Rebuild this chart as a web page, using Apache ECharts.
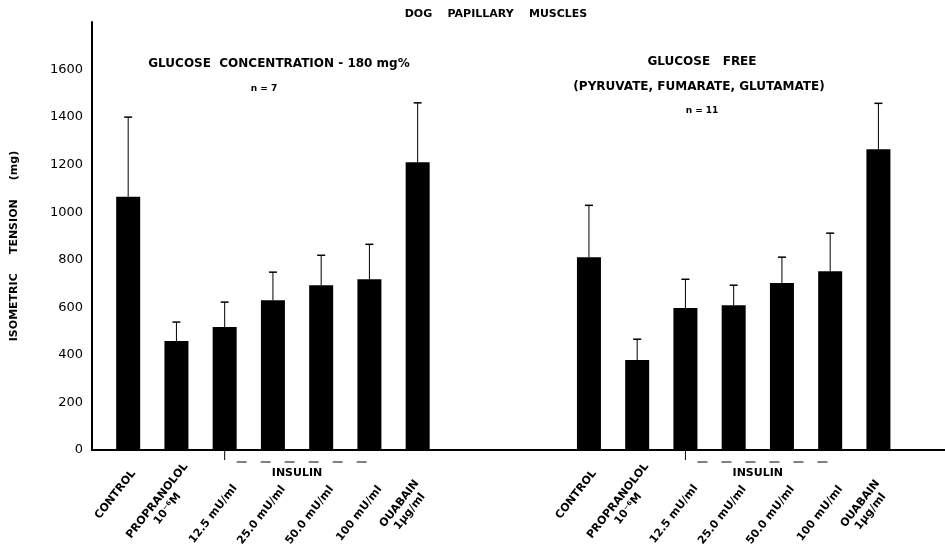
<!DOCTYPE html>
<html>
<head>
<meta charset="utf-8">
<script src="https://cdn.jsdelivr.net/npm/echarts@6/dist/echarts.min.js"></script>
<style>html,body{margin:0;padding:0;background:#fff;}#c{width:945px;height:547px;}</style>
</head>
<body>
<div id="c"></div>
<script>
// ---- data ----
const categories = ['CONTROL', 'PROPRANOLOL\n10\u207B\u2076M', '12.5 mU/ml', '25.0 mU/ml', '50.0 mU/ml', '100 mU/ml', 'OUABAIN\n1\u00B5g/ml'];
const glucoseValues = [1065, 458, 517, 630, 693, 718, 1210];
const glucoseErrTop = [1400, 538, 622, 748, 819, 865, 1460];
const freeValues = [811, 378, 597, 609, 702, 752, 1265];
const freeErrTop = [1029, 466, 718, 693, 811, 912, 1458];
const yTicks = [0, 200, 400, 600, 800, 1000, 1200, 1400, 1600];
const insulinLabel = 'INSULIN';
const insulinFirst = 2, insulinLast = 5;

// ---- layout ----
const RIGHT_OFFSET = 9.55;
const FONT = '"DejaVu Sans", sans-serif';
const LABEL_FONT = 'bold 11px ' + FONT;
const LABEL_ROT = 52 * Math.PI / 180;
const labelDx = [1, 5, 6, 6, 6, 6, -5];
const labelDy = [18, 11, 33, 34, 34, 34, 28];

const leftX = categories.map((c, i) => i);
const rightX = categories.map((c, i) => i + RIGHT_OFFSET);

const barData = leftX.map((x, i) => [x, glucoseValues[i]]).concat(rightX.map((x, i) => [x, freeValues[i]]));
const errData = leftX.map((x, i) => [x, glucoseValues[i], glucoseErrTop[i]]).concat(rightX.map((x, i) => [x, freeValues[i], freeErrTop[i]]));
const labelData = leftX.map((x, i) => [x, i]).concat(rightX.map((x, i) => [x, i]));
const insulinData = [[leftX[insulinFirst], leftX[insulinLast]], [rightX[insulinFirst], rightX[insulinLast]]];

const measureCtx = document.createElement('canvas').getContext('2d');
measureCtx.font = LABEL_FONT;

const chart = echarts.init(document.getElementById('c'), null, {renderer: 'canvas'});
chart.setOption({
  backgroundColor: '#fff',
  animation: false,
  grid: {left: 92, right: 0, top: 22, bottom: 97, containLabel: false},
  graphic: [
    {type: 'text', style: {text: 'DOG    PAPILLARY    MUSCLES', x: 496, y: 14, textAlign: 'center', textVerticalAlign: 'middle', font: 'bold 11px ' + FONT, fill: '#000'}},
    {type: 'text', style: {text: 'GLUCOSE  CONCENTRATION - 180 mg%', x: 279, y: 64, textAlign: 'center', textVerticalAlign: 'middle', font: 'bold 12px ' + FONT, fill: '#000'}},
    {type: 'text', style: {text: 'n = 7', x: 264, y: 89, textAlign: 'center', textVerticalAlign: 'middle', font: 'bold 9px ' + FONT, fill: '#000'}},
    {type: 'text', style: {text: 'GLUCOSE   FREE', x: 702, y: 62, textAlign: 'center', textVerticalAlign: 'middle', font: 'bold 12px ' + FONT, fill: '#000'}},
    {type: 'text', style: {text: '(PYRUVATE, FUMARATE, GLUTAMATE)', x: 699, y: 87, textAlign: 'center', textVerticalAlign: 'middle', font: 'bold 12px ' + FONT, fill: '#000'}},
    {type: 'text', style: {text: 'n = 11', x: 702, y: 111, textAlign: 'center', textVerticalAlign: 'middle', font: 'bold 9px ' + FONT, fill: '#000'}}
  ],
  xAxis: {
    type: 'value', min: -0.75, max: 16.93,
    splitLine: {show: false},
    axisTick: {show: false},
    axisLabel: {show: false},
    axisLine: {show: true, onZero: false, lineStyle: {color: '#000', width: 2}}
  },
  yAxis: {
    type: 'value', min: 0, max: 1800, interval: 200,
    name: 'ISOMETRIC     TENSION     (mg)',
    nameLocation: 'middle', nameRotate: 90, nameGap: 72,
    nameTextStyle: {color: '#000', fontFamily: FONT, fontWeight: 'bold', fontSize: 11, padding: [0, 20, 0, 0]},
    splitLine: {show: false},
    axisTick: {show: false},
    axisLine: {show: true, onZero: false, lineStyle: {color: '#000', width: 2}},
    axisLabel: {customValues: yTicks, formatter: v => String(v), color: '#000', fontFamily: FONT, fontSize: 13, margin: 9}
  },
  series: [
    {
      type: 'bar', data: barData, barWidth: 24,
      itemStyle: {color: '#000'}, silent: true
    },
    {
      type: 'custom', data: errData, silent: true,
      renderItem: (params, api) => {
        const x = api.value(0);
        const b = api.coord([x, api.value(1)]);
        const t = api.coord([x, api.value(2)]);
        return {type: 'group', children: [
          {type: 'line', shape: {x1: b[0], y1: b[1], x2: t[0], y2: t[1]}, style: {stroke: '#000', lineWidth: 1}},
          {type: 'line', shape: {x1: t[0] - 4, y1: t[1], x2: t[0] + 4, y2: t[1]}, style: {stroke: '#000', lineWidth: 1.5}}
        ]};
      }
    },
    {
      type: 'custom', data: labelData, silent: true, clip: false,
      renderItem: (params, api) => {
        const x = api.value(0);
        const idx = api.value(1);
        const p = api.coord([x, 0]);
        const ex = p[0] + labelDx[idx];
        const ey = p[1] + labelDy[idx];
        const lines = categories[idx].split('\n');
        const ux = Math.cos(LABEL_ROT), uy = -Math.sin(LABEL_ROT);
        const dx = Math.sin(LABEL_ROT), dy = Math.cos(LABEL_ROT);
        const children = [{
          type: 'text', x: ex, y: ey, rotation: LABEL_ROT,
          style: {text: lines[0], textAlign: 'right', textVerticalAlign: 'top', font: LABEL_FONT, fill: '#000'}
        }];
        if (lines.length > 1) {
          const w1 = measureCtx.measureText(lines[0]).width;
          const lh = 13;
          children.push({
            type: 'text', x: ex - ux * w1 / 2 + dx * lh, y: ey - uy * w1 / 2 + dy * lh, rotation: LABEL_ROT,
            style: {text: lines[1], textAlign: 'center', textVerticalAlign: 'top', font: LABEL_FONT, fill: '#000'}
          });
        }
        return {type: 'group', children};
      }
    },
    {
      type: 'custom', data: insulinData, silent: true, clip: false,
      renderItem: (params, api) => {
        const a = api.coord([api.value(0), 0]);
        const b = api.coord([api.value(1), 0]);
        const yb = a[1] + 12;
        return {type: 'group', children: [
          {type: 'polyline', shape: {points: [[a[0], a[1]], [a[0], yb], [b[0], yb], [b[0], b[1]]]}, style: {stroke: '#000', lineWidth: 1, lineDash: [10, 14], fill: null}},
          {type: 'text', style: {text: insulinLabel, x: (a[0] + b[0]) / 2, y: a[1] + 23, textAlign: 'center', textVerticalAlign: 'middle', font: 'bold 11px ' + FONT, fill: '#000'}}
        ]};
      }
    }
  ]
});
</script>
</body>
</html>
